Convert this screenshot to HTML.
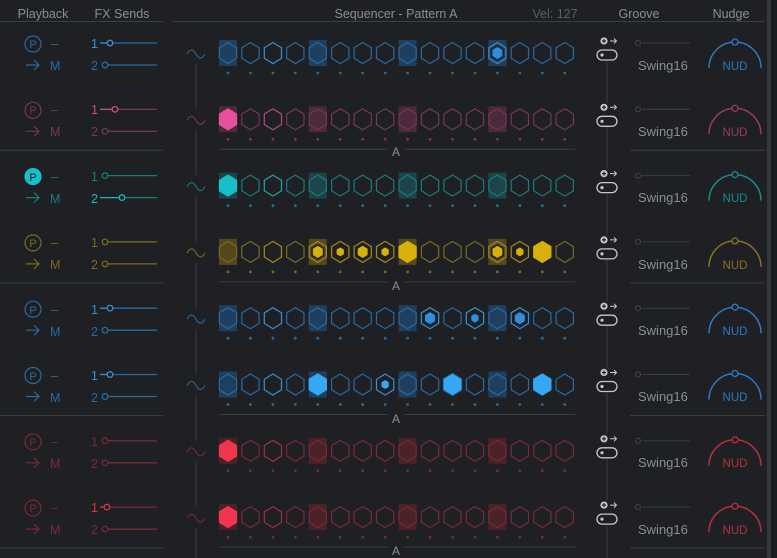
<!DOCTYPE html>
<html><head><meta charset="utf-8"><style>
html,body{margin:0;padding:0;background:#1e2024;width:777px;height:558px;overflow:hidden}
svg{display:block}
text{font-family:"Liberation Sans",sans-serif}
</style></head><body>
<svg id="s" width="777" height="558" viewBox="0 0 777 558" xmlns="http://www.w3.org/2000/svg">
<rect width="777" height="558" fill="#1e2024"/>
<rect x="767" y="0" width="4" height="558" fill="#34373c"/>
<rect x="771" y="0" width="6" height="558" fill="#1a1c1f"/>
<g fill="#8b8e93" font-size="12.5" text-anchor="middle">
<text x="43" y="18">Playback</text>
<text x="122" y="18">FX Sends</text>
<text x="396" y="18">Sequencer - Pattern A</text>
<text x="555" y="18" fill="#5c5f64">Vel: 127</text>
<text x="639" y="18">Groove</text>
<text x="731" y="18">Nudge</text>
</g>
<line x1="0" y1="21.5" x2="163" y2="21.5" stroke="#3a3d42"/>
<line x1="172" y1="21.5" x2="765" y2="21.5" stroke="#3a3d42"/>
<g id="g"></g>
<g fill="#8b8e93" font-size="13">
<text x="638" y="70">Swing16</text><text x="638" y="136">Swing16</text><text x="638" y="202">Swing16</text><text x="638" y="269">Swing16</text>
<text x="638" y="335">Swing16</text><text x="638" y="401">Swing16</text><text x="638" y="467">Swing16</text><text x="638" y="534">Swing16</text>
</g>
<g fill="#8b8e93" font-size="12" text-anchor="middle">
<text x="396" y="156">A</text><text x="396" y="290">A</text><text x="396" y="423">A</text><text x="396" y="555">A</text>
</g>
<g font-size="11.5" text-anchor="middle">
<text x="735" y="70" fill="#2f78c4">NUD</text><text x="735" y="136" fill="#9c3a62">NUD</text>
<text x="735" y="202" fill="#1a8a8e">NUD</text><text x="735" y="269" fill="#8a7222">NUD</text>
<text x="735" y="335" fill="#2f78c4">NUD</text><text x="735" y="401" fill="#2f78c4">NUD</text>
<text x="735" y="467" fill="#b8303f">NUD</text><text x="735" y="534" fill="#b8303f">NUD</text>
</g>
<g font-size="12.5">
<text x="91" y="48" fill="#3b8fd0">1</text><text x="91" y="70" fill="#2a6aa0">2</text><text x="50" y="70" fill="#2a6aa0">M</text><text x="51" y="48" fill="#2a6aa0">–</text>
<text x="91" y="114" fill="#d04c8c">1</text><text x="91" y="136" fill="#7a3558">2</text><text x="50" y="136" fill="#7a3558">M</text><text x="51" y="114" fill="#7a3558">–</text>
<text x="91" y="181" fill="#1a7b80">1</text><text x="91" y="203" fill="#1cb8bf">2</text><text x="50" y="203" fill="#1a7b80">M</text><text x="51" y="181" fill="#1a7b80">–</text>
<text x="91" y="247" fill="#7d6a20">1</text><text x="91" y="269" fill="#7d6a20">2</text><text x="50" y="269" fill="#7d6a20">M</text><text x="51" y="247" fill="#7d6a20">–</text>
<text x="91" y="314" fill="#3b8fd0">1</text><text x="91" y="336" fill="#2a6aa0">2</text><text x="50" y="336" fill="#2a6aa0">M</text><text x="51" y="314" fill="#2a6aa0">–</text>
<text x="91" y="380" fill="#3b8fd0">1</text><text x="91" y="402" fill="#2a6aa0">2</text><text x="50" y="402" fill="#2a6aa0">M</text><text x="51" y="380" fill="#2a6aa0">–</text>
<text x="91" y="446" fill="#7a2a35">1</text><text x="91" y="468" fill="#7a2a35">2</text><text x="50" y="468" fill="#7a2a35">M</text><text x="51" y="446" fill="#7a2a35">–</text>
<text x="91" y="512" fill="#d03a4f">1</text><text x="91" y="534" fill="#7a2a35">2</text><text x="50" y="534" fill="#7a2a35">M</text><text x="51" y="512" fill="#7a2a35">–</text>
</g>
<g font-size="11" text-anchor="middle">
<text x="33" y="48" fill="#2a6aa0">P</text><text x="33" y="114" fill="#7a3558">P</text>
<text x="33" y="181" fill="#1e2024">P</text><text x="33" y="247" fill="#7d6a20">P</text>
<text x="33" y="314" fill="#2a6aa0">P</text><text x="33" y="380" fill="#2a6aa0">P</text>
<text x="33" y="446" fill="#7a2a35">P</text><text x="33" y="512" fill="#7a2a35">P</text>
</g>
</svg>
<script>
var NS="http://www.w3.org/2000/svg",g=document.getElementById("g");
function el(t,a){var e=document.createElementNS(NS,t);for(var k in a)e.setAttribute(k,a[k]);g.insertBefore(e,null);return e;}
function hex(cx,cy,r){var w=r*0.82,h=r/2;return [[cx,cy-r],[cx+w,cy-h],[cx+w,cy+h],[cx,cy+r],[cx-w,cy+h],[cx-w,cy-h]].map(function(p){return p[0].toFixed(1)+","+p[1].toFixed(1)}).join(" ");}
var rows=[
 {o:"#2a6aa0",b:"#3b8fd0",f:"#2e8ee0",bx:"#1f3f5e",sl:"#3b8fd0",s1:110,s2:0,pf:0,fills:{12:"m"}},
 {o:"#7a3558",b:"#b04a80",f:"#e8509e",bx:"#4a2a3b",sl:"#d04c8c",s1:115,s2:0,pf:0,fills:{0:"b"}},
 {o:"#1a7b80",b:"#1fa5ab",f:"#17c0c8",bx:"#1b4548",sl:"#1cb8bf",s1:0,s2:122,pf:1,fills:{0:"b"}},
 {o:"#7d6a20",b:"#a88a18",f:"#d8b00a",bx:"#55481c",sl:"#c8a010",s1:0,s2:0,pf:0,fills:{4:"m",5:"s",6:"m",7:"s",8:"b",12:"m",13:"s",14:"b"}},
 {o:"#2a6aa0",b:"#3b8fd0",f:"#2e8ee0",bx:"#1f3f5e",sl:"#3b8fd0",s1:110,s2:0,pf:0,fills:{9:"m",11:"s",13:"m"}},
 {o:"#2a6aa0",b:"#3b8fd0",f:"#35a8f5",bx:"#1f3f5e",sl:"#3b8fd0",s1:110,s2:0,pf:0,fills:{4:"b",7:"s",10:"B",14:"b"}},
 {o:"#7a2a35",b:"#a03040",f:"#f0364f",bx:"#4a2228",sl:"#d03a4f",s1:0,s2:0,pf:0,fills:{0:"b"}},
 {o:"#7a2a35",b:"#a03040",f:"#f0364f",bx:"#4a2228",sl:"#d03a4f",s1:107,s2:0,pf:0,fills:{0:"b"}}
];
rows.forEach(function(R,i){
 var yc=53+66.3*i;
 if(i%2==1){var ly=yc+31;
  el("line",{x1:0,y1:ly,x2:163,y2:ly,stroke:"#3a3d42"});
  el("line",{x1:630,y1:ly,x2:765,y2:ly,stroke:"#3a3d42"});
  el("line",{x1:219,y1:ly-1,x2:388,y2:ly-1,stroke:"#3a3d42"});
  el("line",{x1:404,y1:ly-1,x2:575,y2:ly-1,stroke:"#3a3d42"});
 }
 el("circle",{cx:33,cy:yc-9,r:8,fill:R.pf?R.f:"none",stroke:R.pf?R.f:R.o,"stroke-width":1.2});
 el("path",{d:"M26 "+(yc+12)+"h13M34 "+(yc+7)+"l5 5l-5 5",stroke:R.o,fill:"none","stroke-width":1.2});
 [[yc-10,R.s1],[yc+12,R.s2]].forEach(function(s,k){
  var y=s[0],p=s[1]||105,act=!!s[1];
  var lc=act?R.sl:R.o;
  if(act){el("line",{x1:100,y1:y,x2:p-3,y2:y,stroke:R.sl,"stroke-width":1.3});}
  el("line",{x1:p+3,y1:y,x2:157,y2:y,stroke:R.o,"stroke-width":1.3});
  el("circle",{cx:p,cy:y,r:2.8,fill:"none",stroke:lc,"stroke-width":1.3});
 });
 el("path",{d:"M187 "+(yc+1)+"q4.5 -8 9 0q4.5 8 9 0",stroke:R.o,fill:"none","stroke-width":1.1});
 if(i<7) el("line",{x1:196,y1:yc+11,x2:196,y2:yc+56,stroke:"#3a3d42"});
 else el("line",{x1:196,y1:yc+11,x2:196,y2:558,stroke:"#3a3d42"});
 for(var j=0;j<16;j++){
  var cx=228+22.45*j;
  if(j%4==0) el("rect",{x:cx-9,y:yc-13,width:18,height:26,fill:R.bx});
  var t=R.fills[j];
  if(t=="b"||t=="B"){el("polygon",{points:hex(cx,yc,11.2),fill:R.f,stroke:t=="B"?R.o:"none"});}
  else{
   el("polygon",{points:hex(cx,yc,10.5),fill:"none",stroke:(j==2||t)?R.b:R.o,"stroke-width":1.2});
   if(t=="m") el("polygon",{points:hex(cx,yc,7),fill:R.f,stroke:"#1e2024","stroke-width":1.5});
   if(t=="s") el("polygon",{points:hex(cx,yc,4.5),fill:R.f});
  }
  el("circle",{cx:cx,cy:yc+20,r:1.4,fill:R.o});
 }
 el("circle",{cx:604,cy:yc-12,r:3.6,fill:"#c8c8c8"});
 el("path",{d:"M602 "+(yc-12)+"h4M604 "+(yc-14)+"v4",stroke:"#1e2024","stroke-width":1.2});
 el("path",{d:"M610 "+(yc-12)+"h6M614 "+(yc-14.5)+"l2.5 2.5l-2.5 2.5",stroke:"#c8c8c8",fill:"none","stroke-width":1});
 el("rect",{x:597,y:yc-3,width:20,height:10,rx:5,fill:"none",stroke:"#c8c8c8","stroke-width":1.3});
 el("circle",{cx:602,cy:yc+2,r:1.6,fill:"#c8c8c8"});
 if(i<7) el("line",{x1:607,y1:yc+8,x2:607,y2:yc+50,stroke:"#3a3d42"});
 else el("line",{x1:607,y1:yc+8,x2:607,y2:558,stroke:"#3a3d42"});
 el("circle",{cx:638,cy:yc-10,r:2.5,fill:"none",stroke:"#44474c"});
 el("line",{x1:642,y1:yc-10,x2:690,y2:yc-10,stroke:"#3a3d42"});
 var ac=R.o=="#7a3558"?"#9c3a62":(R.o=="#1a7b80"?"#1a8a8e":(R.o=="#7d6a20"?"#8a7222":(R.o=="#7a2a35"?"#b8303f":"#2f78c4")));
 el("path",{d:"M709 "+(yc+15)+"A26 26 0 0 1 761 "+(yc+15),fill:"none",stroke:ac,"stroke-width":1.5});
 el("circle",{cx:735,cy:yc-11,r:3,fill:"#1e2024",stroke:ac,"stroke-width":1.3});
});
</script>
</body></html>
